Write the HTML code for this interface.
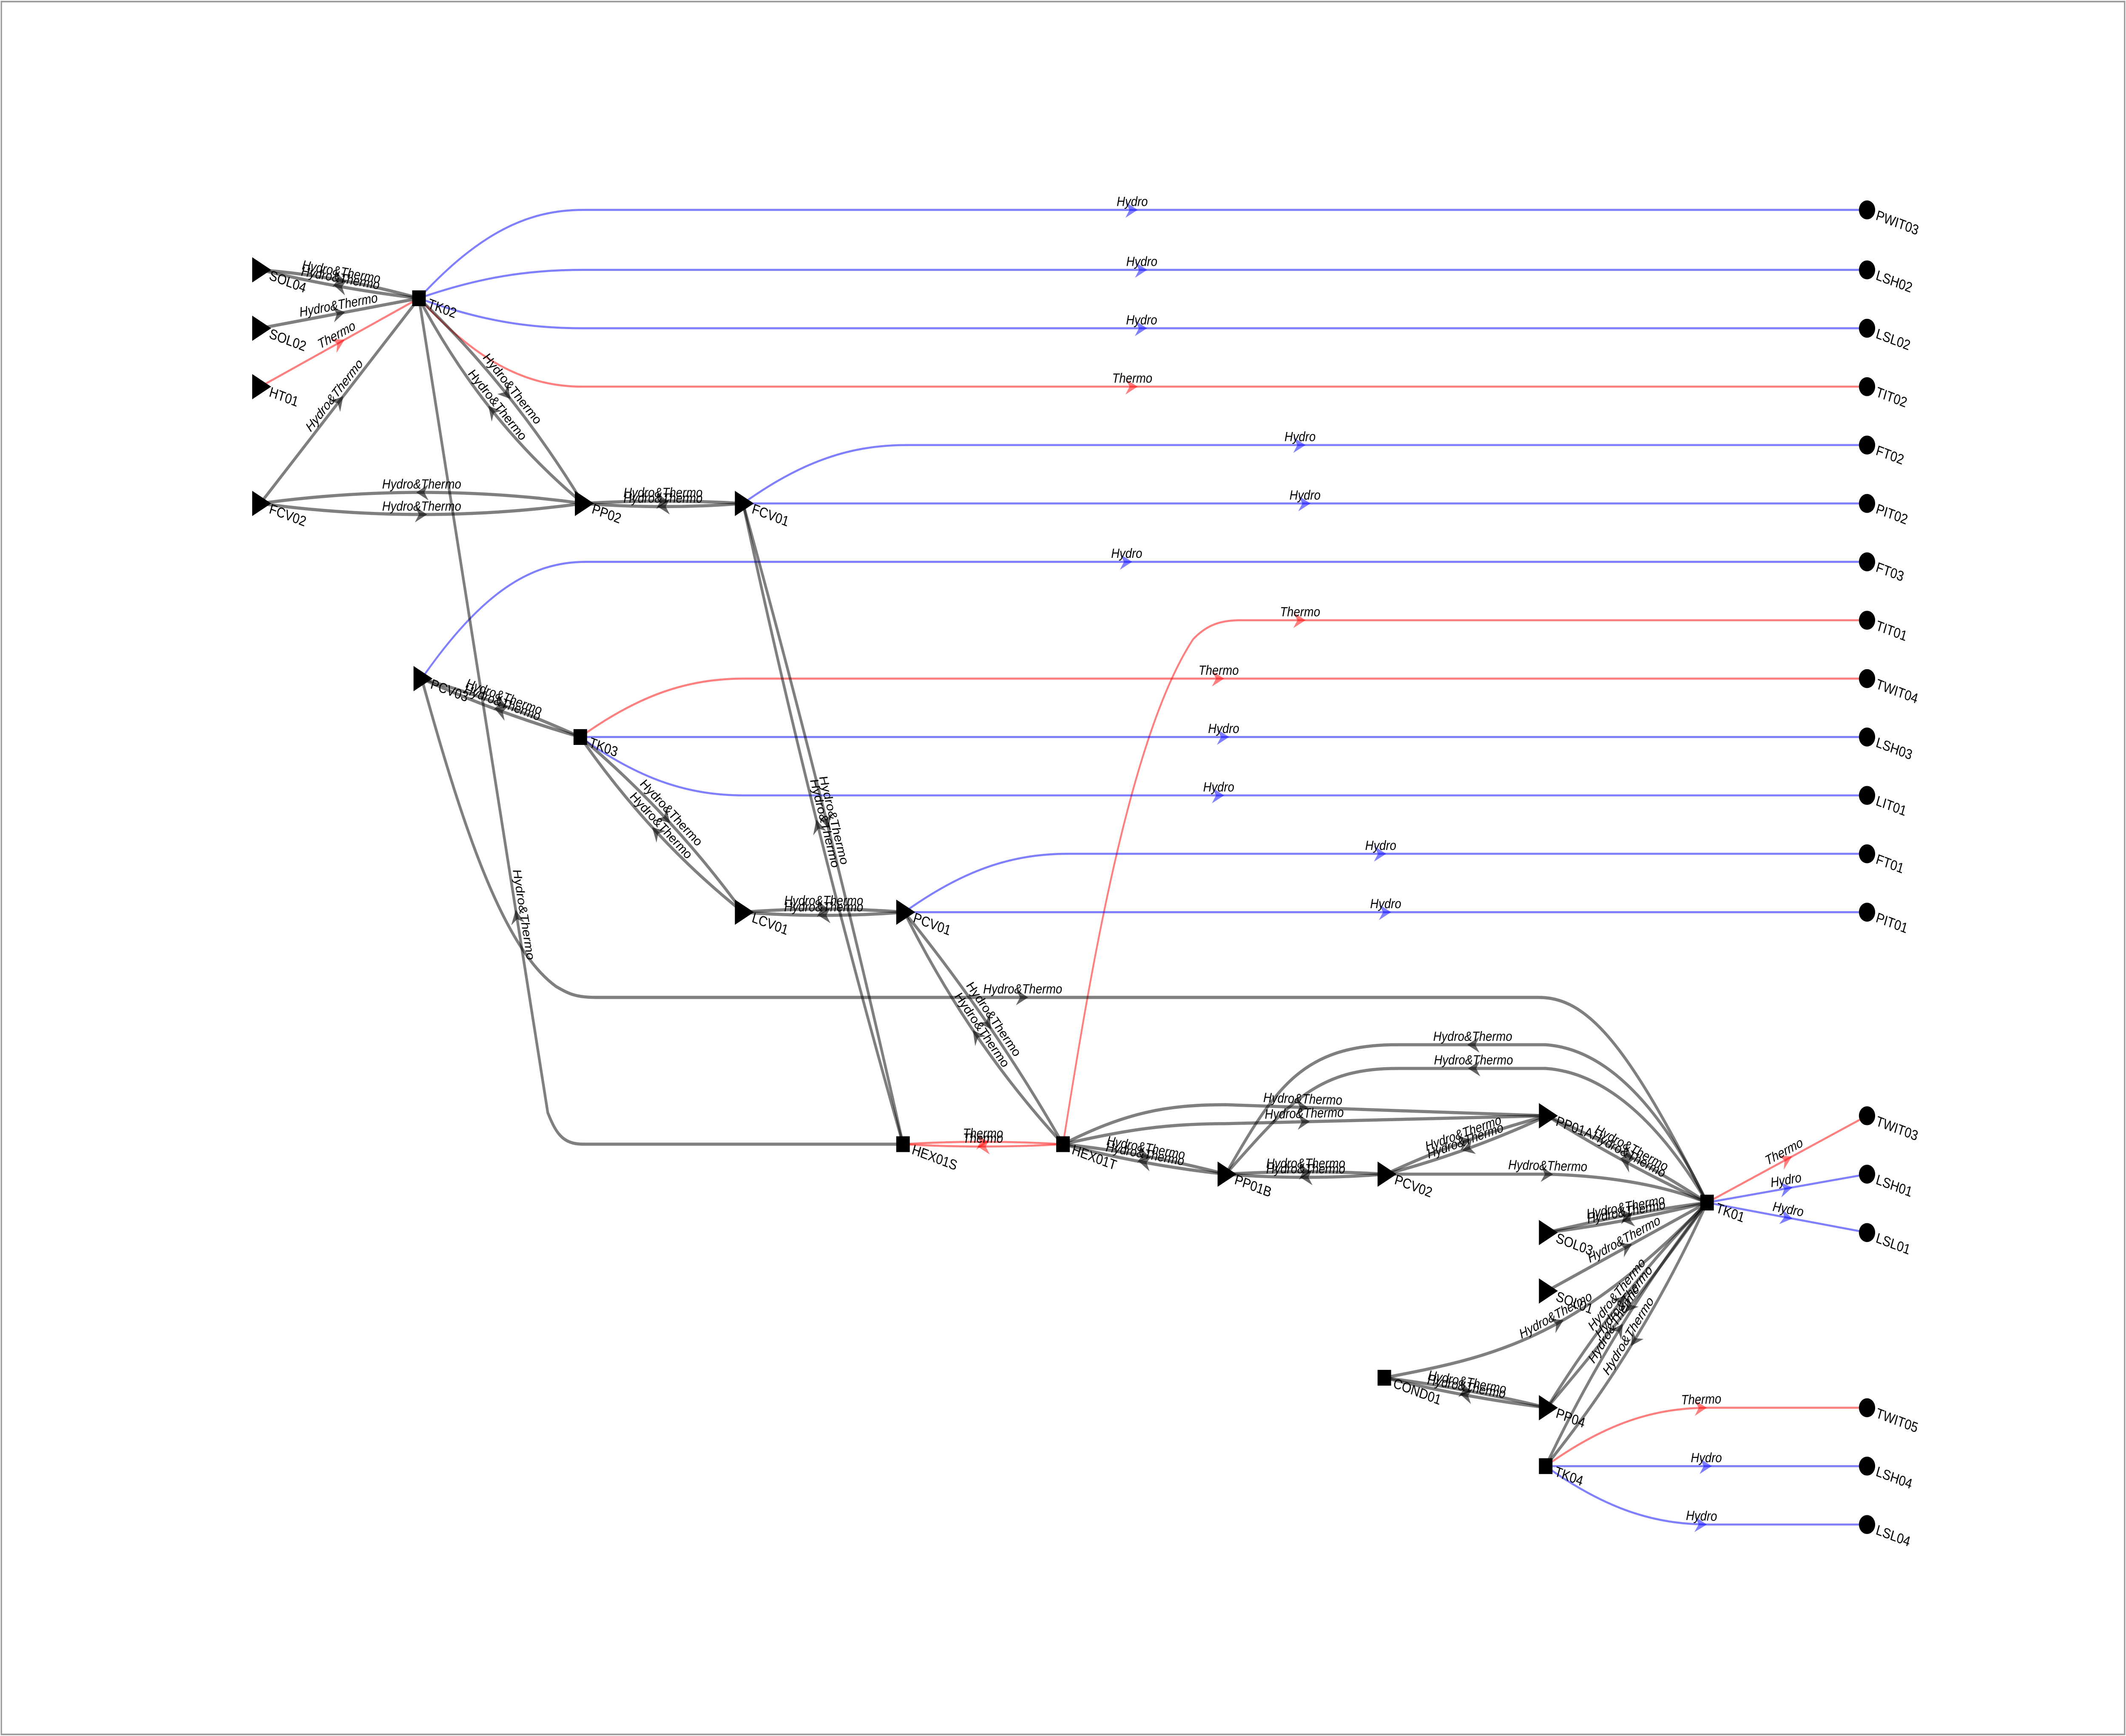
<!DOCTYPE html>
<html><head><meta charset="utf-8">
<style>
html,body{margin:0;padding:0;background:#fff;width:100%;height:100%;overflow:hidden;}
svg{display:block;position:absolute;left:0;top:0;width:100vw;height:100vh;}
text{font-family:"Liberation Sans",sans-serif;}
.el{font-size:8.6px;font-style:italic;fill:#000;}
.nl{font-size:9px;fill:#000;}
</style></head>
<body>
<svg id="s" xmlns="http://www.w3.org/2000/svg" viewBox="0 0 1568 1100" preserveAspectRatio="none">
<rect x="0" y="0" width="1568" height="1100" fill="#fff"/>
<rect x="1" y="1" width="1566" height="1098" fill="none" stroke="#999" stroke-width="1"/>
<g id="edges" fill="none"></g>
<g id="marks"></g>
<g id="nodes"></g>
</svg>
<script>
var NS="http://www.w3.org/2000/svg";
var N={SOL04:[192,171,'t'],SOL02:[192,208,'t'],HT01:[192,245,'t'],FCV02:[192,319,'t'],TK02:[309,189,'s'],
PP02:[430,319,'t'],FCV01:[548,319,'t'],PCV03:[311,430,'t'],TK03:[428,467,'s'],LCV01:[548,578,'t'],PCV01:[667,578,'t'],
HEX01S:[666,725,'s'],HEX01T:[784,725,'s'],PP01B:[904,744,'t'],PCV02:[1022,744,'t'],PP01A:[1141,707,'t'],TK01:[1259,762,'s'],
SOL03:[1141,781,'t'],SOL01:[1141,818,'t'],COND01:[1021,873,'s'],PP04:[1141,892,'t'],TK04:[1140,929,'s'],
PWIT03:[1377,133,'c'],LSH02:[1377,171,'c'],LSL02:[1377,208,'c'],TIT02:[1377,245,'c'],FT02:[1377,282,'c'],PIT02:[1377,319,'c'],
FT03:[1377,356,'c'],TIT01:[1377,393,'c'],TWIT04:[1377,430,'c'],LSH03:[1377,467,'c'],LIT01:[1377,504,'c'],FT01:[1377,541,'c'],
PIT01:[1377,578,'c'],TWIT03:[1377,707,'c'],LSH01:[1377,744,'c'],LSL01:[1377,781,'c'],TWIT05:[1377,892,'c'],LSH04:[1377,929,'c'],LSL04:[1377,966,'c']};
var G='rgba(0,0,0,0.5)',B='rgba(0,0,255,0.5)',R='rgba(255,0,0,0.5)';
var HT='Hydro&Thermo';
function hc(a,b,yy,x2){var s=N[a],e=N[b];x2=x2||s[0]+121;
 return 'M'+s[0]+','+s[1]+' C'+(s[0]+45)+','+(s[1]+(yy-s[1])*0.75)+' '+(x2-40)+','+yy+' '+x2+','+yy+' L'+e[0]+','+e[1];}
function q(a,b,cx,cy){var s=N[a],e=N[b];return 'M'+s[0]+','+s[1]+' Q'+cx+','+cy+' '+e[0]+','+e[1];}
function l(a,b){var s=N[a],e=N[b];return 'M'+s[0]+','+s[1]+' L'+e[0]+','+e[1];}
function bow(a,b,k){var s=N[a],e=N[b];var mx=(s[0]+e[0])/2,my=(s[1]+e[1])/2,dx=e[0]-s[0],dy=e[1]-s[1],L=Math.hypot(dx,dy);
 return q(a,b,mx-dy/L*k,my+dx/L*k);}
var E=[
[hc('TK02','PWIT03',133),B,'Hydro',1],[hc('TK02','LSH02',171),B,'Hydro',1],[hc('TK02','LSL02',208),B,'Hydro',1],[hc('TK02','TIT02',245),R,'Thermo',1],
[hc('FCV01','FT02',282),B,'Hydro',1],[l('FCV01','PIT02'),B,'Hydro',1],[hc('PCV03','FT03',356),B,'Hydro',1],
['M784,725 C800,640 830,470 880,405 C890,396 900,393 915,393 L1377,393',R,'Thermo',1],
[hc('TK03','TWIT04',430),R,'Thermo',1],[l('TK03','LSH03'),B,'Hydro',1],[hc('TK03','LIT01',504),B,'Hydro',1],
[hc('PCV01','FT01',541),B,'Hydro',1],[l('PCV01','PIT01'),B,'Hydro',1],
[l('TK01','TWIT03'),R,'Thermo',1],[l('TK01','LSH01'),B,'Hydro',1],[l('TK01','LSL01'),B,'Hydro',1],
[hc('TK04','TWIT05',892),R,'Thermo',1],[l('TK04','LSH04'),B,'Hydro',1],[hc('TK04','LSL04',966),B,'Hydro',1],
[bow('SOL04','TK02',-5),G,HT,1],[bow('SOL04','TK02',3),G,HT,-1],[l('SOL02','TK02'),G,HT,1],[l('HT01','TK02'),R,'Thermo',1],
[l('FCV02','TK02'),G,HT,1],[bow('FCV02','PP02',-14),G,HT,-1],[bow('FCV02','PP02',14),G,HT,1],
[bow('TK02','PP02',18),G,HT,-1],[bow('TK02','PP02',-12),G,HT,1],
['M666,725 L430,725 C415,725 410,718 404,705 L309,189',G,HT,1],
[bow('PP02','FCV01',-3),G,HT,1],[bow('PP02','FCV01',4),G,HT,-1],
[bow('FCV01','HEX01S',-6),G,HT,1],[bow('FCV01','HEX01S',8),G,HT,-1],
[bow('PCV03','TK03',-4),G,HT,1],[bow('PCV03','TK03',4),G,HT,-1],
[bow('TK03','LCV01',12),G,HT,-1],[bow('TK03','LCV01',-10),G,HT,1],
[bow('LCV01','PCV01',-4),G,HT,1],[bow('LCV01','PCV01',4),G,HT,-1],
[bow('PCV01','HEX01T',-8),G,HT,1],[bow('PCV01','HEX01T',14),G,HT,-1],
['M311,430 C340,520 370,600 410,625 C420,630 425,632 440,632 L1135,632 C1170,632 1200,660 1259,762',G,HT,1],
[bow('HEX01S','HEX01T',-3),R,'Thermo',1],[bow('HEX01S','HEX01T',3),R,'Thermo',-1],
[bow('HEX01T','PP01B',-4),G,HT,1],[bow('HEX01T','PP01B',4),G,HT,-1],
['M784,725 C830,705 860,700 904,700 L1141,707',G,HT,1],['M784,725 C830,716 860,712 904,712 L1141,707',G,HT,1],
['M904,744 C940,690 960,662 1030,662 L1140,662 C1190,665 1230,710 1259,762',G,HT,-1],
['M904,744 C950,700 970,677 1030,677 L1140,677 C1190,680 1230,720 1259,762',G,HT,-1],
[bow('PP01B','PCV02',-3),G,HT,1],[bow('PP01B','PCV02',4),G,HT,-1],
[bow('PCV02','PP01A',-5),G,HT,1],[bow('PCV02','PP01A',5),G,HT,-1],
['M1022,744 L1140,744 C1190,745 1230,752 1259,762',G,HT,1],
[bow('PP01A','TK01',-5),G,HT,1],[bow('PP01A','TK01',4),G,HT,-1],
[bow('SOL03','TK01',-3),G,HT,1],[bow('SOL03','TK01',3),G,HT,-1],[l('SOL01','TK01'),G,HT,1],
['M1021,873 C1100,860 1160,850 1259,762',G,HT,1],
[bow('COND01','PP04',-3),G,HT,1],[bow('COND01','PP04',3),G,HT,-1],
[bow('PP04','TK01',-10),G,HT,1],[bow('PP04','TK01',4),G,HT,-1],
[bow('TK04','TK01',-12),G,HT,1],[bow('TK04','TK01',14),G,HT,-1]
];
var eg=document.getElementById('edges'),mg=document.getElementById('marks'),ng=document.getElementById('nodes');
function mk(t,a,p){var e=document.createElementNS(NS,t);for(var k in a)e.setAttribute(k,a[k]);(p||mg).appendChild(e);return e;}
E.forEach(function(ed){
 var p=mk('path',{d:ed[0],stroke:ed[1],'stroke-width':ed[1]==G?2:1.3,fill:'none'},eg);
 var L=p.getTotalLength(),m=L*0.5,a=p.getPointAtLength(m),b=p.getPointAtLength(m+1),c=p.getPointAtLength(m-1);
 var ang=Math.atan2(b.y-c.y,b.x-c.x)*180/Math.PI;var aa=ed[3]<0?ang+180:ang;
 var col=ed[1]==G?'rgba(0,0,0,0.6)':ed[1];
 mk('path',{d:'M4,0 L-5,-5 L-2,0 L-5,5 Z',fill:col,transform:'translate('+a.x+','+a.y+') rotate('+aa+')'});
 var ta=ang;if(ta>90)ta-=180;if(ta<-90)ta+=180;
 var t=mk('text',{'class':'el','text-anchor':'middle',transform:'translate('+a.x+','+a.y+') rotate('+ta+') translate(0,-2.5)'});
 t.textContent=ed[2];
});
for(var k in N){var n=N[k],x=n[0],y=n[1];
 if(n[2]=='t')mk('path',{d:'M'+(x-6)+','+(y-8)+' L'+(x+8)+','+y+' L'+(x-6)+','+(y+8)+' Z',fill:'#000'},ng);
 else if(n[2]=='s')mk('rect',{x:x-5,y:y-5,width:10,height:10,fill:'#000'},ng);
 else mk('circle',{cx:x,cy:y,r:6,fill:'#000'},ng);
 var t=mk('text',{'class':'nl',transform:'translate('+(x+6)+','+(y+6)+') rotate(18)'},ng);t.textContent=k;}
</script>
</body></html>
